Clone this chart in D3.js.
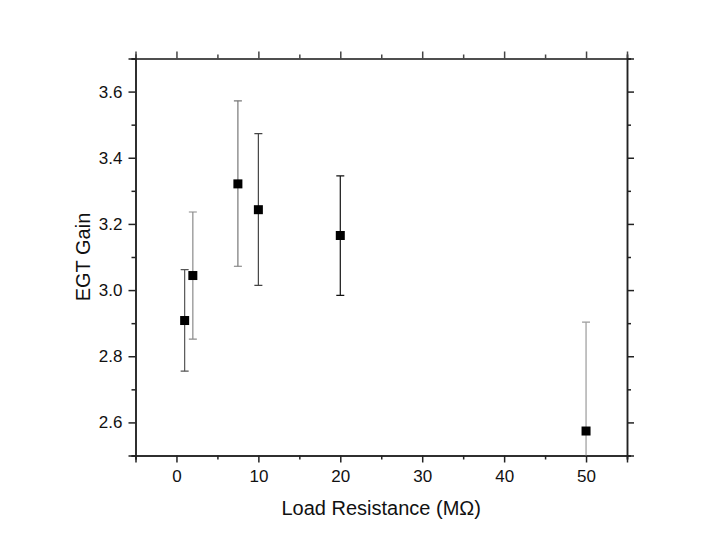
<!DOCTYPE html>
<html><head><meta charset="utf-8">
<script src="https://cdn.jsdelivr.net/npm/d3@7"></script>
<style>body{margin:0;background:#fff}svg{display:block}text{font-family:Arial,"Liberation Sans",sans-serif;fill:#111}</style>
</head><body>
<script>
const resistance = [1, 2, 7.5, 10, 20, 50];
const gain = [2.908, 3.044, 3.321, 3.243, 3.165, 2.574];
const errPlus = [0.154, 0.192, 0.251, 0.230, 0.180, 0.329];
const errMinus = [0.153, 0.192, 0.249, 0.229, 0.181, 0.329];
const xTicks = [0, 10, 20, 30, 40, 50];
const yTicks = [2.6, 2.8, 3.0, 3.2, 3.4, 3.6];
const barColors = ["#555", "#8a8a8a", "#777", "#444", "#111", "#9a9a9a"];

const W = 710, H = 544;
const m = {l: 135.5, r: 710 - 627, t: 58.5, b: 544 - 455.5};
const svg = d3.select("body").append("svg").attr("width", W).attr("height", H);
const x = d3.scaleLinear().domain([-5, 55]).range([m.l, W - m.r]);
const y = d3.scaleLinear().domain([2.5, 3.7]).range([H - m.b, m.t]);

svg.append("clipPath").attr("id", "c").append("rect")
  .attr("x", m.l).attr("y", m.t).attr("width", W - m.r - m.l).attr("height", H - m.b - m.t);

const xMinor = d3.range(-5, 56, 5).filter(v => v % 10 !== 0);
const yMinor = [2.5, 2.7, 2.9, 3.1, 3.3, 3.5, 3.7];

function styleAxis(col) {
  return g => {
    g.select(".domain").attr("stroke", col).attr("stroke-width", 1.5);
    g.selectAll(".tick line").attr("stroke", col).attr("stroke-width", 1.5);
    g.selectAll("text").style("font-size", "17px").attr("fill", "#111");
  };
}
const major = 7, minor = 4;
// bottom
svg.append("g").attr("transform", `translate(0,${H - m.b})`)
  .call(d3.axisBottom(x).tickValues(xTicks).tickSize(major).tickPadding(7).tickFormat(d3.format("d")))
  .call(styleAxis("#222"));
svg.append("g").attr("transform", `translate(0,${H - m.b})`)
  .call(d3.axisBottom(x).tickValues(xMinor).tickSize(minor).tickFormat("")).call(styleAxis("#222"));
// top
svg.append("g").attr("transform", `translate(0,${m.t})`)
  .call(d3.axisTop(x).tickValues(xTicks).tickSize(major).tickFormat("")).call(styleAxis("#444"));
svg.append("g").attr("transform", `translate(0,${m.t})`)
  .call(d3.axisTop(x).tickValues(xMinor).tickSize(minor).tickFormat("")).call(styleAxis("#444"));
// left
svg.append("g").attr("transform", `translate(${m.l},0)`)
  .call(d3.axisLeft(y).tickValues(yTicks).tickSize(major).tickPadding(6).tickFormat(d3.format(".1f")))
  .call(styleAxis("#222"));
svg.append("g").attr("transform", `translate(${m.l},0)`)
  .call(d3.axisLeft(y).tickValues(yMinor).tickSize(minor).tickFormat("")).call(styleAxis("#222"));
// right
svg.append("g").attr("transform", `translate(${W - m.r},0)`)
  .call(d3.axisRight(y).tickValues(yTicks).tickSize(major).tickFormat("")).call(styleAxis("#222"));
svg.append("g").attr("transform", `translate(${W - m.r},0)`)
  .call(d3.axisRight(y).tickValues(yMinor).tickSize(minor).tickFormat("")).call(styleAxis("#222"));

const pts = resistance.map((r, i) => ({r, g: gain[i], hi: gain[i] + errPlus[i], lo: gain[i] - errMinus[i], c: barColors[i]}));
const eb = svg.append("g").attr("clip-path", "url(#c)");
const cap = 4;
pts.forEach(p => {
  eb.append("line").attr("x1", x(p.r)).attr("x2", x(p.r)).attr("y1", y(p.hi)).attr("y2", y(p.lo))
    .attr("stroke", p.c).attr("stroke-width", 1.2);
  [p.hi, p.lo].forEach(v => eb.append("line").attr("x1", x(p.r) - cap).attr("x2", x(p.r) + cap)
    .attr("y1", y(v)).attr("y2", y(v)).attr("stroke", p.c).attr("stroke-width", 1.2));
});
const s = 9;
svg.append("g").selectAll("rect").data(pts).join("rect")
  .attr("x", d => x(d.r) - s / 2).attr("y", d => y(d.g) - s / 2)
  .attr("width", s).attr("height", s).attr("fill", "#000");

svg.append("text").attr("x", (m.l + W - m.r) / 2).attr("y", 515).attr("text-anchor", "middle")
  .style("font-size", "20px").text("Load Resistance (MΩ)");
svg.append("text").attr("transform", `translate(90,${(m.t + H - m.b) / 2}) rotate(-90)`)
  .attr("text-anchor", "middle").style("font-size", "20px").text("EGT Gain");
</script>
</body></html>
